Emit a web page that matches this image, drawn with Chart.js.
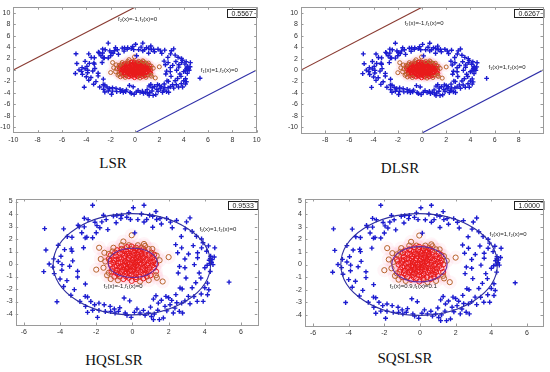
<!DOCTYPE html>
<html><head><meta charset="utf-8">
<script src="https://cdn.jsdelivr.net/npm/chart.js@4.4.1/dist/chart.umd.min.js"></script>
<style>
html,body{margin:0;padding:0;background:#fff;width:550px;height:372px;overflow:hidden;position:relative;}
.p{position:absolute;}
.t{position:absolute;font-family:'Liberation Serif','Times New Roman',serif;font-size:15px;line-height:15px;color:#111;text-align:center;width:120px;}
</style></head><body>
<div class="p" style="left:0px;top:0px;width:275px;height:150px"><canvas id="c1"></canvas></div>
<div class="p" style="left:275px;top:0px;width:275px;height:150px"><canvas id="c2"></canvas></div>
<div class="p" style="left:0px;top:186px;width:275px;height:150px"><canvas id="c3"></canvas></div>
<div class="p" style="left:275px;top:186px;width:275px;height:150px"><canvas id="c4"></canvas></div>
<div class="t" style="left:53px;top:156px">LSR</div>
<div class="t" style="left:340px;top:161px">DLSR</div>
<div class="t" style="left:54px;top:353px">HQSLSR</div>
<div class="t" style="left:345px;top:351px">SQSLSR</div>
<script>
// ---------- data ----------
const methods = ['LSR', 'DLSR', 'HQSLSR', 'SQSLSR'];
const scores = ['0.5567', '0.6267', '0.9533', '1.0000'];

// class +1 (blue crosses, outer ring)
const bluePts = [
 [-2.2,4.7],[0.64,4.7],[0.05,4.5],[1.3,4.2],[-2.66,3.66],[-2.94,2.97],[-2.66,2.97],[-2.07,3.34],
 [-1.96,3.07],[-1.69,3.37],[-1.36,2.75],[-1.45,3.55],[-1.05,3.83],[-0.86,3.88],[-0.64,3.64],[-0.31,3.74],
 [-0.11,3.56],[0.13,2.49],[0.64,3.36],[0.79,3.56],[1.12,3.82],[1.34,3.56],[1.12,2.94],[1.52,3.64],
 [1.89,3.64],[2.44,3.48],[2.99,3.37],[3.18,3.69],[2.92,2.81],[2.39,1.55],[2.72,1.29],[3.36,1.47],
 [3.82,1.29],[4.10,1.02],[4.55,1.29],[4.32,0.62],[4.52,0.56],[4.24,0.30],[4.37,0.14],[4.28,0.03],
 [4.13,-0.10],[3.42,-0.05],[2.9,0.4],[3.69,-0.72],[3.78,-1.12],[4.15,-1.53],[4.22,-2.06],[4.15,-2.46],
 [5.34,-1.45],[2.96,-1.12],[2.53,-0.72],[2.63,-1.92],[3.09,-2.59],[3.58,-2.99],[3.91,-2.99],[3.18,-3.18],
 [2.72,-3.13],[2.17,-2.91],[2.08,-3.26],[1.80,-3.39],[1.30,-2.54],[1.16,-2.81],[1.43,-3.13],[1.85,-2.59],
 [2.35,-3.53],[2.59,-3.79],[2.77,-3.92],[2.26,-3.92],[1.71,-4.32],[1.49,-4.45],[1.16,-4.45],[1.21,-4.0],
 [0.88,-3.92],[0.61,-3.71],[0.42,-3.92],[0.11,-3.87],[-0.07,-4.27],[-0.40,-3.92],[-0.77,-3.79],[-0.96,-3.92],
 [-0.46,-2.72],[-1.23,-3.39],[-1.56,-3.26],[-1.85,-3.13],[-2.09,-3.26],[-1.85,-3.71],[-1.93,-4.27],[-2.48,-3.87],
 [-2.59,-3.39],[-2.61,-2.59],[-2.48,-2.64],[-3.21,-2.05],[-4.17,-3.02],[-3.62,-1.33],[-3.03,-1.04],[-3.03,-0.58],
 [-3.47,-0.18],[-3.89,-0.05],[-4.32,-0.77],[-4.90,-0.61],[-4.35,0.41],[-3.95,0.62],[-4.78,1.12],[-3.75,1.15],
 [-3.38,1.21],[-3.34,1.02],[-3.34,2.14],[-2.61,2.09],[-2.52,2.14],[-3.80,2.81],[-4.85,2.83],[3.54,2.22],
 [3.82,2.0],[3.1,0.8],[3.6,0.5],[2.9,-0.3],[4.4,0.35],[4.3,0.45],[4.45,-0.05],[1.6,-2.9],
 [2.0,-2.7],[2.4,-2.45],[1.0,-3.45],[1.4,-3.7],[-2.3,-3.0],[-1.2,-3.8],[-1.6,3.9],[-0.6,3.9],
 [0.3,3.55],[0.95,3.9],[2.1,3.35],[-2.45,3.55],[-4.1,0.2],[-4.4,-0.25],[-3.3,0.25],[-2.0,2.5],
 [3.3,-1.9],[3.8,-2.4],[2.75,-2.0],[0.25,-3.6],[-0.15,-2.95],[-1.0,-3.6],
 [-3.0,3.1],[-2.8,2.5],[-1.8,2.9],[-0.9,3.3],[-0.2,4.1],[0.5,4.0],[1.6,3.2],[2.2,2.9],
 [2.7,2.2],[3.3,2.6],[3.9,1.7],[4.2,1.45],[3.6,0.9],[4.0,-0.3],[4.3,-0.6],[3.5,-1.5],
 [4.0,-1.9],[3.4,-2.6],[2.9,-2.95],[2.45,-3.1],[1.9,-3.75],[1.05,-4.2],[0.7,-4.1],[-0.3,-4.1],
 [-0.7,-3.5],[-1.5,-3.8],[-2.2,-3.7],[-2.9,-3.0],[-3.4,-2.5],[-3.8,-1.8],[-4.0,-1.2],[-4.6,0.0],
 [-4.1,1.5],[-3.6,2.2],[-2.2,2.1],[-3.9,-0.5],[2.6,-0.2],[2.5,0.9],[-2.6,-1.6],[-2.7,1.3]
];

// class -1 (red circles, inner cluster)
const redPts = [
 [-0.9,0.6],[-0.7,0.9],[-0.5,1.1],[-0.3,0.8],[-0.1,1.2],[0.1,0.9],[0.3,1.1],[0.5,0.8],[0.7,1.0],[0.9,0.7],
 [1.1,0.5],[1.0,0.2],[0.8,-0.1],[1.2,-0.3],[0.9,-0.6],[0.6,-0.8],[0.4,-1.0],[0.1,-0.9],[-0.2,-1.1],[-0.4,-0.8],
 [-0.7,-1.0],[-0.9,-0.7],[-1.1,-0.4],[-1.2,0.0],[-1.0,0.3],[-0.8,0.1],[-0.6,0.4],[-0.4,0.2],[-0.2,0.5],[0.0,0.3],
 [0.2,0.5],[0.4,0.3],[0.6,0.5],[0.8,0.3],[0.5,0.0],[0.3,-0.2],[0.1,-0.4],[-0.1,-0.2],[-0.3,-0.4],[-0.5,-0.1],
 [-0.7,-0.3],[-0.6,-0.6],[-0.3,-0.7],[0.0,-0.6],[0.3,-0.5],[0.6,-0.3],[0.7,-0.5],[1.0,-0.9],[-1.0,-1.0],[-1.2,0.7],
 [-1.3,0.4],[-1.1,1.0],[-0.2,1.5],[0.2,1.3],[0.5,1.3],[0.9,1.2],[1.3,0.0],[1.3,-0.6],[0.2,-1.2],[-0.5,-1.2],
 [-1.3,-0.7],[-0.85,-0.15],[-0.45,0.65],[0.15,0.1],[0.45,-0.65],[0.85,0.05],[-0.15,0.0],[0.05,0.7],[-0.25,-0.25],[0.25,0.75],
 [-0.65,0.15],[0.65,0.15],[-0.05,-0.85],[0.35,0.95],[-0.35,1.0],[-0.95,0.9],[1.05,0.9],[-1.0,-0.2],[1.1,-0.1],[0.0,1.0],
 [-0.55,-0.45],[0.55,0.6],[-0.15,-0.55],[0.75,-0.75],[-0.8,-0.8],[-0.3,0.1],[0.2,-0.1],[0.1,0.2],[-0.4,-0.05],[0.4,0.1],
 [-0.75,0.45],[-0.55,0.85],[-0.25,0.35],[0.05,0.45],[0.35,0.55],[0.7,0.75],[0.95,0.45],[1.15,0.15],[0.95,-0.3],[0.55,-0.5],
 [0.2,-0.75],[-0.1,-0.45],[-0.45,-0.6],[-0.85,-0.5],[-1.05,0.1],[-0.9,0.35],[-0.35,-0.15],[0.0,0.05],[0.3,0.25],[0.65,-0.05],
 [-0.2,0.85],[0.15,1.1],[0.45,1.05],[-0.6,1.2],[-0.85,1.1],[0.8,-1.0],[0.2,-1.05],[-0.35,-1.0],[-1.15,-0.6],[-1.25,0.25],
 [1.2,0.75],[-0.05,1.4],[0.6,1.2],[-0.45,0.45],[0.25,-0.35],[-0.65,-0.2],[0.85,-0.45],[0.45,0.4],[-0.15,0.65],[0.1,-0.2],
 [-1.84,1.3],[-1.75,0.4],[-2.0,-0.45],[-1.05,1.3],[-0.5,1.8],[-0.04,2.3],[0.64,1.6],[0.7,1.45],[1.34,0.67],[2.0,0.55],
 [1.67,-1.4],[0.42,-1.4],[-0.04,-1.35],[-1.2,-1.2],[-1.4,-0.9],[1.3,-0.9],[1.35,-1.1],[-0.6,1.5],[0.3,1.5],[1.1,1.2],
 [-1.3,0.8],[-1.5,0.2],[1.2,0.3],[-0.8,-1.3],[0.9,-1.3],[-1.6,-0.3],[1.5,0.3],[-0.3,1.35],[0.6,-1.15],[-1.55,0.9]
];

// decision boundaries
const lsrLineF2 = [[-10,0],[0,11]];
const lsrLineF1 = [[0,-11],[10,0]];
const dlsrLineF2 = [[-10,0],[0,11]];
const dlsrLineF1 = [[0,-11],[10,0]];
// ellipse boundaries: [centerX, centerY, radiusX, radiusY]
const hqOuter = [-0.03,-0.02,4.35,4.05];
const hqInner = [0.02,0.09,1.36,1.17];
const sqOuter = [-0.05,0.0,4.39,4.04];
const sqInner = [-0.03,0.02,1.55,1.40];

// tick labels
const xTicksLSR = [-10,-8,-6,-4,-2,0,2,4,6,8,10];
const xTicksDLSR = [-8,-6,-4,-2,0,2,4,6,8];
const yTicksWide = [-10,-8,-6,-4,-2,0,2,4,6,8,10];
const xTicksNarrow = [-6,-4,-2,0,2,4,6];
const yTicksNarrow = [-4,-3,-2,-1,0,1,2,3,4,5];

// boundary annotations: [text, x, y]
const notesLSR = [['f\u2082(x)=-1,f\u2081(x)=0',-1.4,8.8],['f\u2081(x)=1,f\u2082(x)=0',5.4,0.0]];
const notesDLSR = [['f\u2082(x)=-1,f\u2081(x)=0',-1.45,8.1],['f\u2081(x)=1,f\u2082(x)=0',5.5,0.5]];
const notesHQ = [['f\u2081(x)=1,f\u2082(x)=0',3.7,2.8],['f\u2082(x)=-1,f\u2081(x)=0',-1.6,-1.8]];
const notesSQ = [['f\u2081(x)=1,f\u2082(x)=0',3.9,2.4],['f\u2082(x)=0.9,f\u2081(x)=0.1',-1.7,-1.73]];

// ---------- drawing ----------
Chart.defaults.font.family = "'Liberation Sans', Arial, sans-serif";
Chart.defaults.font.size = 7;
Chart.defaults.color = '#333';

const toXY = a => a.map(p => ({x:p[0], y:p[1]}));
const redStroke = ctx => {
  const p = ctx.raw; if (!p) return '#e81a1a';
  return Math.hypot(p.x, p.y) > 1.45 ? '#b8642c' : '#e81a1a';
};

const framePlugin = {
  id:'frame',
  beforeDatasetsDraw(chart){
    const {ctx, chartArea:a} = chart;
    ctx.save();
    ctx.fillStyle = '#fff';
    ctx.fillRect(a.left, a.top, a.right-a.left, a.bottom-a.top);
    ctx.restore();
  },
  afterDraw(chart){
    const {ctx, chartArea:a, scales} = chart;
    ctx.save();
    ctx.strokeStyle = '#9a9a9a';
    ctx.lineWidth = 1;
    ctx.strokeRect(Math.round(a.left)+0.5, Math.round(a.top)+0.5, Math.round(a.right-a.left), Math.round(a.bottom-a.top));
    ctx.beginPath();
    scales.x.ticks.forEach(t => {
      const px = Math.round(scales.x.getPixelForValue(t.value))+0.5;
      ctx.moveTo(px, a.bottom); ctx.lineTo(px, a.bottom-2.5);
      ctx.moveTo(px, a.top); ctx.lineTo(px, a.top+2.5);
    });
    scales.y.ticks.forEach(t => {
      const py = Math.round(scales.y.getPixelForValue(t.value))+0.5;
      ctx.moveTo(a.left, py); ctx.lineTo(a.left+2.5, py);
      ctx.moveTo(a.right, py); ctx.lineTo(a.right-2.5, py);
    });
    ctx.stroke();
    ctx.restore();
  }
};

const overlayPlugin = {
  id:'overlay',
  afterDatasetsDraw(chart, args, opts){
    const {ctx, chartArea:a, scales:{x, y}} = chart;
    ctx.save();
    ctx.beginPath();
    ctx.rect(a.left, a.top, a.right-a.left, a.bottom-a.top);
    ctx.clip();
    (opts.ellipses || []).forEach(e => {
      const [cx, cy, rx, ry] = e.p;
      const pcx = x.getPixelForValue(cx), pcy = y.getPixelForValue(cy);
      const prx = Math.abs(x.getPixelForValue(cx+rx) - pcx);
      const pry = Math.abs(y.getPixelForValue(cy+ry) - pcy);
      ctx.beginPath();
      ctx.ellipse(pcx, pcy, prx, pry, 0, 0, Math.PI*2);
      ctx.strokeStyle = e.color; ctx.lineWidth = 1.1;
      ctx.stroke();
    });
    ctx.fillStyle = '#222';
    ctx.font = "6px 'Liberation Sans', Arial, sans-serif";
    ctx.textBaseline = 'middle';
    ctx.textAlign = 'left';
    (opts.notes || []).forEach(n => {
      ctx.fillText(n[0], x.getPixelForValue(n[1]), y.getPixelForValue(n[2]));
    });
    ctx.restore();
    // score box
    ctx.save();
    ctx.font = "7px 'Liberation Sans', Arial, sans-serif";
    const w = ctx.measureText(opts.score).width + 8;
    const bx = Math.round(a.right - w) + 0.5, by = Math.round(a.top + 2) + 0.5;
    ctx.fillStyle = '#fff';
    ctx.fillRect(bx, by, w, 8);
    ctx.strokeStyle = '#222'; ctx.lineWidth = 1;
    ctx.strokeRect(bx, by, w, 8);
    ctx.fillStyle = '#222';
    ctx.textBaseline = 'middle'; ctx.textAlign = 'center';
    ctx.fillText(opts.score, bx + w/2, by + 4.5);
    ctx.restore();
  }
};

function makePanel(cfg){
  const box = cfg.box, area = cfg.area;
  const datasets = [
    {type:'scatter', data:toXY(redPts), pointStyle:'circle', pointRadius:cfg.halo, borderWidth:0,
     backgroundColor:'rgba(255,140,175,0.09)', pointBorderColor:'rgba(0,0,0,0)', order:6},
    {type:'scatter', data:toXY(redPts), pointStyle:'circle', pointRadius:cfg.cr, borderWidth:1,
     pointBorderColor:redStroke, pointBackgroundColor:'rgba(255,255,255,0)', order:5},
    {type:'scatter', data:toXY(bluePts), pointStyle:'cross', pointRadius:2.4, borderWidth:1.4,
     pointBorderColor:'#1c1cd0', order:4}
  ];
  (cfg.lines || []).forEach(l => datasets.push({type:'line', data:toXY(l.p), borderColor:l.color, borderWidth:1.1,
     pointRadius:0, showLine:true, fill:false, order:1}));
  new Chart(document.getElementById(cfg.id), {
    type:'scatter',
    data:{datasets},
    options:{
      responsive:true, maintainAspectRatio:false, animation:false, events:[],
      layout:{padding:{left:0, top:area[1]-box[1], right:(box[0]+box[2])-area[2], bottom:0}},
      plugins:{legend:{display:false}, tooltip:{enabled:false},
        overlay:{ellipses:cfg.ellipses, notes:cfg.notes, score:cfg.score}},
      scales:{
        x:{type:'linear', min:cfg.xr[0], max:cfg.xr[1],
           grid:{display:false, drawTicks:false}, border:{display:false},
           ticks:{padding:3, color:'#333', maxRotation:0, autoSkip:false},
           afterBuildTicks:s => { s.ticks = cfg.xt.map(v => ({value:v})); },
           afterFit:s => { s.height = (box[1]+box[3]) - area[3]; }},
        y:{type:'linear', min:cfg.yr[0], max:cfg.yr[1],
           grid:{display:false, drawTicks:false}, border:{display:false},
           ticks:{padding:3, color:'#333', autoSkip:false},
           afterBuildTicks:s => { s.ticks = cfg.yt.map(v => ({value:v})); },
           afterFit:s => { s.width = area[0] - box[0]; }}
      }
    },
    plugins:[framePlugin, overlayPlugin]
  });
}

makePanel({id:'c1', box:[0,0,275,150], area:[13.3,6,256.7,132.7], xr:[-10,10], yr:[-11,11],
  xt:xTicksLSR, yt:yTicksWide, cr:2, halo:5, score:scores[0], notes:notesLSR,
  lines:[{p:lsrLineF2, color:'#8a3b32'},{p:lsrLineF1, color:'#2f2fa8'}]});
makePanel({id:'c2', box:[275,0,275,150], area:[301,6,543,133], xr:[-10,10], yr:[-11,11],
  xt:xTicksDLSR, yt:yTicksWide, cr:2, halo:5, score:scores[1], notes:notesDLSR,
  lines:[{p:dlsrLineF2, color:'#8a3b32'},{p:dlsrLineF1, color:'#2f2fa8'}]});
makePanel({id:'c3', box:[0,186,275,150], area:[15.7,199,257.3,325], xr:[-6.45,6.9], yr:[-4.88,5.2],
  xt:xTicksNarrow, yt:yTicksNarrow, cr:2.6, halo:7, score:scores[2], notes:notesHQ,
  ellipses:[{p:hqOuter, color:'#2f2fa0'},{p:hqInner, color:'#6a2a9a'}]});
makePanel({id:'c4', box:[275,186,275,150], area:[305,199,547,326], xr:[-6.45,6.9], yr:[-4.88,5.2],
  xt:xTicksNarrow, yt:yTicksNarrow, cr:2.6, halo:7, score:scores[3], notes:notesSQ,
  ellipses:[{p:sqOuter, color:'#2f2fa0'},{p:sqInner, color:'#6a2a9a'}]});
</script>
</body></html>
